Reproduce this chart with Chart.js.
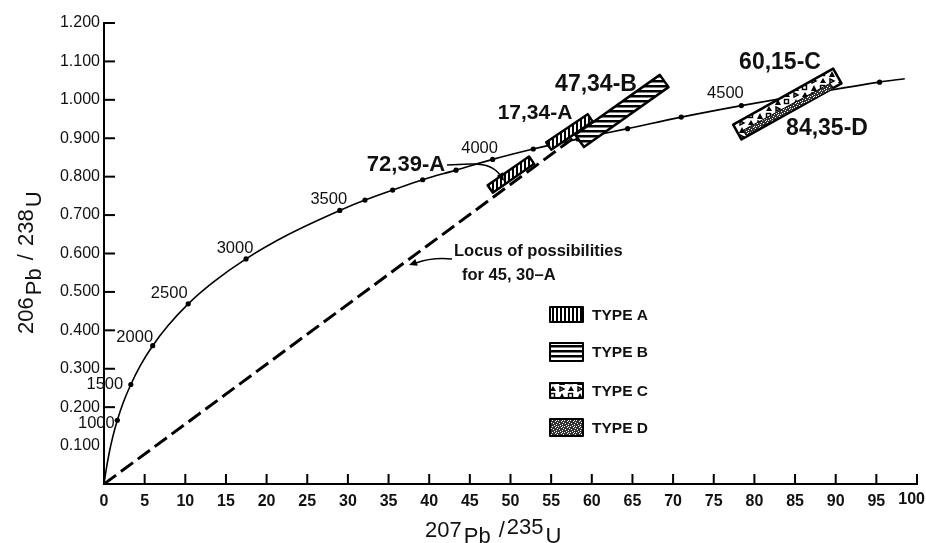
<!DOCTYPE html>
<html>
<head>
<meta charset="utf-8">
<script src="https://cdn.jsdelivr.net/npm/chart.js@4.4.1/dist/chart.umd.min.js"></script>
<style>
  html, body { margin: 0; padding: 0; background: #fff; }
  #wrap { width: 926px; height: 543px; }
</style>
</head>
<body>
<div id="wrap"><canvas id="concordia" width="926" height="543"></canvas></div>
<script>
// concordia curve (age in Ma)
const ages   = [0, 250, 500, 750, 1000, 1250, 1500, 1750, 2000, 2250, 2500, 2750, 3000, 3250, 3500, 3600, 3700, 3800, 3900, 4000, 4100, 4200, 4300, 4400, 4500, 4600, 4700, 4730];
const pb207u = [0, 0.28, 0.63, 1.07, 1.64, 2.37, 3.30, 4.48, 5.99, 7.91, 10.36, 13.48, 17.47, 22.55, 29.0, 32.1, 35.5, 39.2, 43.3, 47.8, 52.8, 58.3, 64.4, 71.0, 78.4, 86.5, 95.4, 98.5];
const pb206u = [0, 0.039, 0.080, 0.122, 0.166, 0.212, 0.259, 0.309, 0.360, 0.413, 0.469, 0.526, 0.586, 0.648, 0.712, 0.739, 0.765, 0.792, 0.817, 0.845, 0.872, 0.898, 0.925, 0.955, 0.985, 1.015, 1.046, 1.055];
const dotAges   = [1000, 1500, 2000, 2500, 3000, 3500, 3600, 3700, 3800, 3900, 4000, 4100, 4200, 4300, 4400, 4500, 4600, 4700];
const labelAges = [1000, 1500, 2000, 2500, 3000, 3500, 4000, 4500];

// locus of possibilities for 45,30-A (line through origin)
const locusX = [0, 61.3];
const locusY = [0, 0.956];

// sample fields: centre line start / end
const sampleNames = ['72,39-A', '17,34-A', '47,34-B', '60,15-C', '84,35-D'];
const sampleTypes = ['A', 'A', 'B', 'C', 'D'];
const boxX1 = [47.5, 54.7, 58.5, 77.9, 78.8];
const boxY1 = [0.768, 0.880, 0.893, 0.916, 0.914];
const boxX2 = [52.6, 59.8, 68.9, 90.2, 89.5];
const boxY2 = [0.843, 0.953, 1.049, 1.062, 1.036];

const legendTypes = ['A', 'B', 'C', 'D'];

const xTicksMax = 100, xStep = 5;
const yTicksMax = 1.2, yStep = 0.1;

const FONT = '"Liberation Sans", Arial, sans-serif';
const INK = '#111';

function tile(w, h, draw) {
  const c = document.createElement('canvas');
  c.width = w; c.height = h;
  draw(c.getContext('2d'));
  return c;
}
function tri(g, x1, y1, x2, y2, x3, y3) {
  g.beginPath(); g.moveTo(x1, y1); g.lineTo(x2, y2); g.lineTo(x3, y3); g.closePath(); g.fill();
}
const tiles = {
  A: tile(4, 4, g => { g.fillStyle = '#fff'; g.fillRect(0, 0, 4, 4); g.fillStyle = '#000'; g.fillRect(0, 0, 2, 4); }),
  B: tile(5, 5, g => { g.fillStyle = '#fff'; g.fillRect(0, 0, 5, 5); g.fillStyle = '#000'; g.fillRect(0, 0, 5, 2.5); }),
  C: tile(18, 14, g => {
    g.fillStyle = '#fff'; g.fillRect(0, 0, 18, 14);
    g.fillStyle = '#000';
    tri(g, 1, 7, 7, 7, 4, 1);
    tri(g, 10, 13, 16, 13, 13, 8);
    g.strokeStyle = '#000'; g.lineWidth = 1.4;
    g.strokeRect(10.5, 1.5, 4, 4);
    g.beginPath(); g.moveTo(2, 9); g.lineTo(6, 11); g.lineTo(2, 13); g.closePath(); g.stroke();
  }),
  D: tile(6, 6, g => {
    g.fillStyle = '#333'; g.fillRect(0, 0, 6, 6);
    g.fillStyle = '#fff';
    [[0, 0], [3, 1], [1, 3], [4, 4], [5, 2], [2, 5], [4, 0]].forEach(([x, y]) => g.fillRect(x, y, 1, 1));
  })
};

function arrowHead(ctx, x, y, angle, size) {
  ctx.save();
  ctx.translate(x, y); ctx.rotate(angle);
  ctx.beginPath();
  ctx.moveTo(0, 0); ctx.lineTo(-size, -size * 0.45); ctx.lineTo(-size, size * 0.45); ctx.closePath();
  ctx.fill();
  ctx.restore();
}

// draws a run of text pieces, each [text, baseline shift]
function textRun(ctx, parts, x, y, gap) {
  parts.forEach(([t, dy]) => {
    ctx.fillText(t, x, y + dy);
    x += ctx.measureText(t).width + gap;
  });
}

const overlayPlugin = {
  id: 'overlay',
  afterDatasetsDraw(chart) {
    const ctx = chart.ctx;
    const xs = chart.scales.x, ys = chart.scales.y;
    const area = chart.chartArea;
    ctx.save();
    ctx.strokeStyle = '#000';
    ctx.fillStyle = '#000';

    // inward tick marks
    ctx.lineWidth = 2;
    xs.ticks.forEach(t => {
      if (t.value <= 0) return;
      const px = xs.getPixelForValue(t.value);
      ctx.beginPath(); ctx.moveTo(px, area.bottom); ctx.lineTo(px, area.bottom - 10); ctx.stroke();
    });
    ys.ticks.forEach(t => {
      if (t.value < 0.15) return;
      const py = ys.getPixelForValue(t.value);
      ctx.beginPath(); ctx.moveTo(area.left, py); ctx.lineTo(area.left + 11, py); ctx.stroke();
    });

    // last x tick label sits inside the frame
    ctx.fillStyle = INK;
    ctx.font = 'bold 16px ' + FONT;
    ctx.textAlign = 'right';
    ctx.textBaseline = 'top';
    ctx.fillText(String(xTicksMax), chart.width - 1, area.bottom + 8);

    // sample fields
    const widths = { A: 9, B: 15, C: 17, D: 6 };
    sampleNames.forEach((name, i) => {
      const type = sampleTypes[i];
      const p1 = { x: xs.getPixelForValue(boxX1[i]), y: ys.getPixelForValue(boxY1[i]) };
      const p2 = { x: xs.getPixelForValue(boxX2[i]), y: ys.getPixelForValue(boxY2[i]) };
      const dx = p2.x - p1.x, dy = p2.y - p1.y, len = Math.hypot(dx, dy);
      const w = widths[type];
      const nx = -dy / len * w / 2, ny = dx / len * w / 2;
      ctx.beginPath();
      ctx.moveTo(p1.x + nx, p1.y + ny); ctx.lineTo(p2.x + nx, p2.y + ny);
      ctx.lineTo(p2.x - nx, p2.y - ny); ctx.lineTo(p1.x - nx, p1.y - ny);
      ctx.closePath();
      ctx.fillStyle = ctx.createPattern(tiles[type], 'repeat');
      ctx.fill();
      ctx.lineJoin = 'round';
      ctx.lineWidth = type === 'D' ? 1 : 2.5;
      ctx.strokeStyle = '#000';
      ctx.stroke();
    });

    // sample labels
    ctx.fillStyle = INK;
    ctx.textAlign = 'center';
    ctx.textBaseline = 'middle';
    const labelPos = [[406, 165, 22], [535, 113, 21], [596, 85, 23], [780, 63, 23], [827, 129, 23]];
    sampleNames.forEach((name, i) => {
      const [lx, ly, fs] = labelPos[i];
      ctx.font = 'bold ' + fs + 'px ' + FONT;
      ctx.fillText(name, lx, ly);
    });

    // age labels next to the dots
    const ageOffset = { 1000: [-21, 3], 1500: [-26, 0], 2000: [-18, -8], 2500: [-19, -10], 3000: [-11, -10], 3500: [-11, -11], 4000: [-13, -11], 4500: [-16, -12] };
    ctx.font = '16.5px ' + FONT;
    labelAges.forEach(a => {
      const i = ages.indexOf(a);
      const px = xs.getPixelForValue(pb207u[i]), py = ys.getPixelForValue(pb206u[i]);
      const off = ageOffset[a];
      ctx.fillText(String(a), px + off[0], py + off[1]);
    });

    // leader for 72,39-A
    ctx.lineWidth = 1.5;
    ctx.strokeStyle = '#000';
    ctx.beginPath();
    ctx.moveTo(447, 165); ctx.lineTo(470, 164);
    ctx.quadraticCurveTo(492, 163, 500, 175);
    ctx.stroke();
    ctx.fillStyle = '#000';
    arrowHead(ctx, 504, 181, Math.atan2(8, 5), 8);

    // locus note
    ctx.fillStyle = INK;
    ctx.textAlign = 'left';
    ctx.font = 'bold 16.5px ' + FONT;
    ctx.fillText('Locus of possibilities', 454, 251);
    ctx.fillText('for 45, 30\u2013A', 462, 275);
    ctx.beginPath();
    ctx.moveTo(452, 259); ctx.quadraticCurveTo(432, 257, 416, 263);
    ctx.stroke();
    ctx.fillStyle = '#000';
    arrowHead(ctx, 409, 265, Math.PI + Math.atan2(-2.5, 7), 8);

    // legend
    const swY = [307, 343, 383, 419];
    const swH = [15, 18, 15, 17];
    legendTypes.forEach((type, i) => {
      ctx.fillStyle = ctx.createPattern(tiles[type], 'repeat');
      ctx.fillRect(550, swY[i], 33, swH[i]);
      ctx.lineWidth = 2;
      ctx.strokeStyle = '#000';
      ctx.strokeRect(550, swY[i], 33, swH[i]);
      ctx.fillStyle = INK;
      ctx.font = 'bold 15.5px ' + FONT;
      ctx.textBaseline = 'middle';
      ctx.fillText('TYPE ' + type, 592, swY[i] + swH[i] / 2 + 1);
    });

    // axis titles with lowered element symbols
    ctx.textBaseline = 'alphabetic';
    ctx.font = '22px ' + FONT;
    textRun(ctx, [['207', 0], ['Pb', 6], [' /', 0], ['235', -3], ['U', 6]], 425, 537, 2);

    ctx.save();
    ctx.translate(33, 334);
    ctx.rotate(-Math.PI / 2);
    ctx.font = '22px ' + FONT;
    textRun(ctx, [['206', 0], ['Pb', 8], [' /', 0], [' 238', 0], ['U', 8]], 0, 0, 2);
    ctx.restore();

    ctx.restore();
  }
};

const ctx = document.getElementById('concordia');
new Chart(ctx, {
  type: 'scatter',
  data: {
    datasets: [
      {
        label: 'Concordia',
        data: pb207u.map((x, i) => ({ x: x, y: pb206u[i] })),
        showLine: true,
        borderColor: '#000',
        borderWidth: 1.6,
        cubicInterpolationMode: 'monotone',
        pointRadius: ages.map(a => dotAges.includes(a) ? 2.6 : 0),
        pointBackgroundColor: '#000',
        pointBorderWidth: 0
      },
      {
        label: 'Locus',
        data: locusX.map((x, i) => ({ x: x, y: locusY[i] })),
        showLine: true,
        borderColor: '#000',
        borderWidth: 3,
        borderDash: [15, 6],
        pointRadius: 0
      }
    ]
  },
  options: {
    responsive: false,
    animation: false,
    devicePixelRatio: 1,
    layout: { padding: { top: 23, right: 9, left: 0, bottom: 0 } },
    plugins: { legend: { display: false }, tooltip: { enabled: false } },
    scales: {
      x: {
        type: 'linear',
        min: 0, max: xTicksMax,
        ticks: {
          stepSize: xStep, color: INK, padding: 8,
          font: { family: FONT, size: 16, weight: 'bold' },
          callback: v => v === xTicksMax ? '' : String(v)
        },
        grid: { display: true, drawOnChartArea: false, drawTicks: false },
        border: { display: true, color: '#000', width: 2 },
        afterFit(s) { s.height = 59; s.paddingLeft = 0; s.paddingRight = 0; }
      },
      y: {
        type: 'linear',
        min: 0, max: yTicksMax,
        ticks: {
          stepSize: yStep, color: INK, padding: 4,
          font: { family: FONT, size: 16 },
          callback: v => v === 0 ? '' : v.toFixed(3)
        },
        grid: { display: true, drawOnChartArea: false, drawTicks: false },
        border: { display: true, color: '#000', width: 2 },
        afterFit(s) { s.width = 104; s.paddingTop = 0; s.paddingBottom = 0; }
      }
    }
  },
  plugins: [overlayPlugin]
});
</script>
</body>
</html>
